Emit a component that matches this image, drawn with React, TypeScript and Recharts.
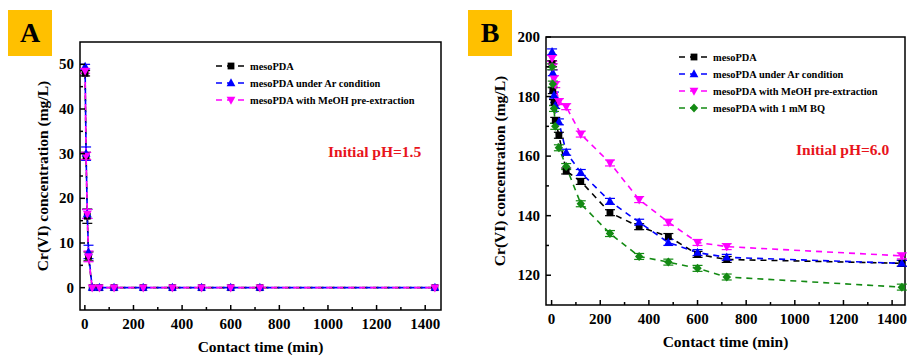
import React from 'react';
import { LineChart, Line, XAxis, YAxis, ReferenceArea, ErrorBar } from 'recharts';

// ---------- Panel A data ----------
const timesA = [1, 5, 10, 15, 30, 60, 120, 240, 360, 480, 600, 720, 1440];
const aMeso = [48, 29.5, 16, 7, 0, 0, 0, 0, 0, 0, 0, 0, 0];
const aAr = [49.5, 30, 16.5, 8, 0, 0, 0, 0, 0, 0, 0, 0, 0];
const aMeOH = [48.5, 29.5, 16.5, 7, 0, 0, 0, 0, 0, 0, 0, 0, 0];
const aMesoErr = [0.6, 0.8, 1.6, 1, 0, 0, 0, 0, 0, 0, 0, 0, 0];
const aArErr = [0.5, 1.5, 1, 1.5, 0, 0, 0, 0, 0, 0, 0, 0, 0];
const aMeOHErr = [0.5, 0.8, 1, 1.2, 0, 0, 0, 0, 0, 0, 0, 0, 0];

// ---------- Panel B data ----------
const timesB = [2, 5, 10, 15, 30, 60, 120, 240, 360, 480, 600, 720, 1440];
const bMeso = [191, 182, 178, 172, 167, 155, 151.5, 141, 136.3, 133, 127, 125.3, 124];
const bAr = [195, 188, 180.5, 177, 171.5, 161.3, 154.5, 144.8, 137.8, 131, 127.6, 126, 124];
const bMeOH = [192.8, 190, 186, 184, 178.3, 176.6, 167.4, 157.7, 145.4, 137.8, 131, 129.6, 126.5];
const bBQ = [190, 184.2, 176, 170, 162.8, 156.5, 144, 134, 126.3, 124.4, 122.3, 119.4, 116];
const bErr = [1, 1, 1, 1, 1, 1, 1, 1, 1, 1, 1, 1, 1];

const xTicksA = [0, 100, 200, 300, 400, 500, 600, 700, 800, 900, 1000, 1100, 1200, 1300, 1400];
const yTicksA = [0, 5, 10, 15, 20, 25, 30, 35, 40, 45, 50];
const xTicksB = xTicksA;
const yTicksB = [120, 130, 140, 150, 160, 170, 180, 190, 200];

const seriesNames = [
  'mesoPDA',
  'mesoPDA under Ar condition',
  'mesoPDA with MeOH pre-extraction',
  'mesoPDA with 1 mM BQ',
];

const COLORS = ['#000000', '#0000ff', '#ff00ff', '#138a13'];
const SHAPES = ['square', 'up', 'down', 'diamond'];
const FONT = "'Liberation Serif', serif";
const TXT: React.CSSProperties = { fontFamily: FONT, fontWeight: 700 };

const dataA = timesA.map((t, i) => ({
  t, s0: aMeso[i], s1: aAr[i], s2: aMeOH[i], e0: aMesoErr[i], e1: aArErr[i], e2: aMeOHErr[i],
}));
const dataB = timesB.map((t, i) => ({
  t, s0: bMeso[i], s1: bAr[i], s2: bMeOH[i], s3: bBQ[i], e0: bErr[i], e1: bErr[i], e2: bErr[i], e3: bErr[i],
}));

function Marker({ cx, cy, shape, color }: any) {
  if (cx == null || cy == null) return null;
  if (shape === 'square') return <rect x={cx - 3.4} y={cy - 3.4} width={6.8} height={6.8} fill={color} />;
  if (shape === 'up') return <polygon points={`${cx},${cy - 4.8} ${cx - 4.4},${cy + 3.2} ${cx + 4.4},${cy + 3.2}`} fill={color} />;
  if (shape === 'down') return <polygon points={`${cx},${cy + 4.8} ${cx - 4.4},${cy - 3.2} ${cx + 4.4},${cy - 3.2}`} fill={color} />;
  return <polygon points={`${cx},${cy - 4.5} ${cx + 4.2},${cy} ${cx},${cy + 4.5} ${cx - 4.2},${cy}`} fill={color} />;
}

const makeXTick = (majorStep: number) => (props: any) => {
  const { x, y, payload } = props;
  const major = payload.value % majorStep === 0;
  return (
    <g>
      <line x1={x} x2={x} y1={y} y2={y - (major ? 5 : 3)} stroke="#000" strokeWidth={1.5} />
      {major && (
        <text x={x} y={y + 18.5} textAnchor="middle" style={{ ...TXT, fontSize: 15 }} fill="#000">
          {payload.value}
        </text>
      )}
    </g>
  );
};

const makeYTick = (majorStep: number) => (props: any) => {
  const { x, y, payload } = props;
  const major = payload.value % majorStep === 0;
  return (
    <g>
      <line x1={x} x2={x + (major ? 5 : 3)} y1={y} y2={y} stroke="#000" strokeWidth={1.5} />
      {major && (
        <text x={x - 6} y={y + 5} textAnchor="end" style={{ ...TXT, fontSize: 15 }} fill="#000">
          {payload.value}
        </text>
      )}
    </g>
  );
};

const yTitle = (dx: number) => (props: any) => {
  const vb = props.viewBox || {};
  const plotLeft = (vb.x || 0) + (vb.width || 0);
  const cx = plotLeft + dx;
  const cy = (vb.y || 0) + (vb.height || 0) / 2;
  return (
    <text x={cx} y={cy + 5} transform={`rotate(-90 ${cx} ${cy})`} textAnchor="middle"
      style={{ ...TXT, fontSize: 15.5 }} fill="#000">
      Cr(VI) concentration (mg/L)
    </text>
  );
};

const xTitle = (props: any) => {
  const vb = props.viewBox || {};
  const cx = (vb.x || 0) + (vb.width || 0) / 2;
  const cy = (vb.y || 0) + 42;
  return (
    <text x={cx} y={cy} textAnchor="middle" style={{ ...TXT, fontSize: 15.5 }} fill="#000">
      Contact time (min)
    </text>
  );
};

function LegendBox({ left, top, count }: { left: number; top: number; count: number }) {
  return (
    <div style={{ position: 'absolute', left, top }}>
      {seriesNames.slice(0, count).map((name, i) => (
        <div key={name} style={{ position: 'absolute', left: 0, top: i * 17, height: 14, whiteSpace: 'nowrap', display: 'flex', alignItems: 'center' }}>
          <svg width={32} height={14} style={{ display: 'block' }}>
            <line x1={0} x2={30} y1={7} y2={7} stroke={COLORS[i]} strokeWidth={1.6} strokeDasharray="6 5" />
            <Marker cx={15} cy={7} shape={SHAPES[i]} color={COLORS[i]} />
          </svg>
          <span style={{ ...TXT, fontSize: 10.4, marginLeft: 2, color: '#000' }}>{name}</span>
        </div>
      ))}
    </div>
  );
}

function PanelLabel({ left, top, text }: { left: number; top: number; text: string }) {
  return (
    <div style={{ position: 'absolute', left, top, width: 44, height: 46, background: '#ffc000', display: 'flex', alignItems: 'center', justifyContent: 'center', ...TXT, fontSize: 28, color: '#000' }}>
      {text}
    </div>
  );
}

function renderLines(keys: string[]) {
  return keys.map((k, i) => (
    <Line key={k} dataKey={k} type="linear" stroke={COLORS[i]} strokeWidth={1.6} strokeDasharray="6 5"
      isAnimationActive={false}
      dot={(p: any) => <Marker key={`${k}-${p.index}`} cx={p.cx} cy={p.cy} shape={SHAPES[i]} color={COLORS[i]} />}
      activeDot={false}>
      <ErrorBar dataKey={`e${i}`} width={5} strokeWidth={1.2} stroke={COLORS[i]} direction="y" isAnimationActive={false} />
    </Line>
  ));
}

export default function App() {
  return (
    <div style={{ position: 'absolute', left: 0, top: 0, width: 907, height: 356, background: '#fff', overflow: 'hidden' }}>
      {/* Panel A */}
      <div style={{ position: 'absolute', left: 0, top: 0 }}>
        <LineChart width={450} height={356} data={dataA} margin={{ top: 42, right: 9, bottom: 45, left: 79 }}>
          <XAxis dataKey="t" type="number" domain={[-20, 1465]} ticks={xTicksA} interval={0} allowDataOverflow
            height={1} tickSize={0} tickMargin={0} axisLine={false} tickLine={false}
            tick={makeXTick(200)} label={xTitle} />
          <YAxis type="number" domain={[-5, 55]} ticks={yTicksA} interval={0} allowDataOverflow
            width={1} tickSize={0} tickMargin={0} axisLine={false} tickLine={false}
            tick={makeYTick(10)} label={yTitle(-37)} />
          <ReferenceArea x1={-20} x2={1465} y1={-5} y2={55} fill="none" stroke="#000" strokeWidth={1.5} fillOpacity={0} />
          {renderLines(['s0', 's1', 's2'])}
        </LineChart>
        <PanelLabel left={8} top={10} text="A" />
        <LegendBox left={216} top={59} count={3} />
        <div style={{ position: 'absolute', left: 328, top: 143, ...TXT, fontSize: 15.5, color: '#e8141c', whiteSpace: 'nowrap' }}>
          Initial pH=1.5
        </div>
      </div>

      {/* Panel B */}
      <div style={{ position: 'absolute', left: 457, top: 0 }}>
        <LineChart width={450} height={356} data={dataB} margin={{ top: 37, right: 2, bottom: 50, left: 88 }}>
          <XAxis dataKey="t" type="number" domain={[-23, 1453]} ticks={xTicksB} interval={0} allowDataOverflow
            height={1} tickSize={0} tickMargin={0} axisLine={false} tickLine={false}
            tick={makeXTick(200)} label={xTitle} />
          <YAxis type="number" domain={[110, 200]} ticks={yTicksB} interval={0} allowDataOverflow
            width={1} tickSize={0} tickMargin={0} axisLine={false} tickLine={false}
            tick={makeYTick(20)} label={yTitle(-46)} />
          <ReferenceArea x1={-23} x2={1453} y1={110} y2={200} fill="none" stroke="#000" strokeWidth={1.5} fillOpacity={0} />
          {renderLines(['s0', 's1', 's2', 's3'])}
        </LineChart>
        <PanelLabel left={11} top={10} text="B" />
        <LegendBox left={222} top={50} count={4} />
        <div style={{ position: 'absolute', left: 339, top: 141, ...TXT, fontSize: 15.5, color: '#e8141c', whiteSpace: 'nowrap' }}>
          Initial pH=6.0
        </div>
      </div>
    </div>
  );
}
